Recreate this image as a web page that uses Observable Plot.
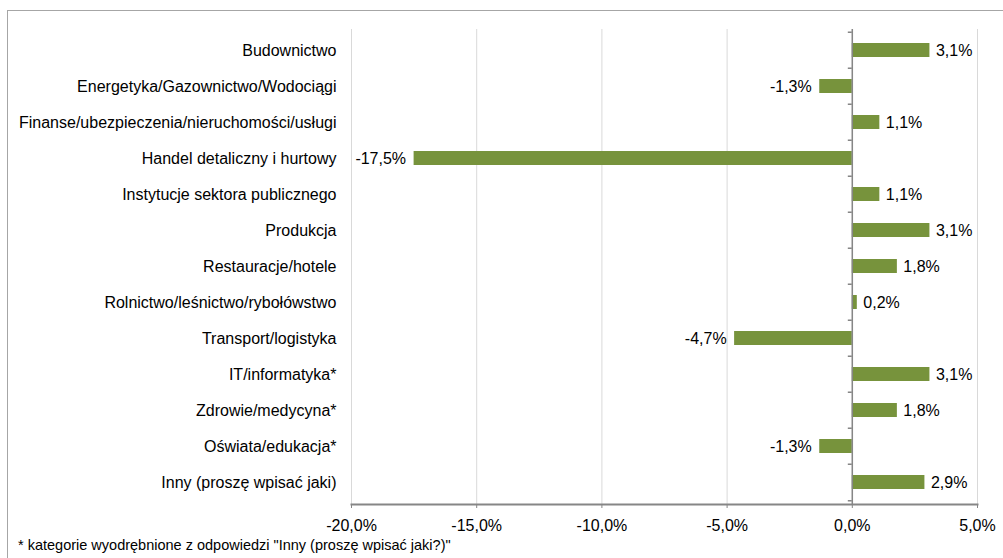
<!DOCTYPE html>
<html>
<head>
<meta charset="utf-8">
<script src="https://cdn.jsdelivr.net/npm/d3@7"></script>
<script src="https://cdn.jsdelivr.net/npm/@observablehq/plot@0.6"></script>
<style>
  html, body { margin: 0; padding: 0; background: #fff; }
  #wrap { position: relative; width: 1003px; height: 558px; overflow: hidden; font-family: "Liberation Sans", Arial, sans-serif; }
  #frame { position: absolute; left: 7px; top: 10px; width: 1010px; height: 560px; border-left: 1.5px solid #a6a6a6; border-top: 1.5px solid #a6a6a6; box-sizing: border-box; }
  #chart { position: absolute; left: 0; top: 0; }
  #note { position: absolute; left: 18px; top: 537px; font-size: 14.5px; color: #000; white-space: nowrap; }
</style>
</head>
<body>
<div id="wrap">
  <div id="frame"></div>
  <div id="chart"></div>
  <div id="note">* kategorie wyodrębnione z odpowiedzi "Inny (proszę wpisać jaki?)"</div>
</div>
<script>
const categories = [
  "Budownictwo",
  "Energetyka/Gazownictwo/Wodociągi",
  "Finanse/ubezpieczenia/nieruchomości/usługi",
  "Handel detaliczny i hurtowy",
  "Instytucje sektora publicznego",
  "Produkcja",
  "Restauracje/hotele",
  "Rolnictwo/leśnictwo/rybołówstwo",
  "Transport/logistyka",
  "IT/informatyka*",
  "Zdrowie/medycyna*",
  "Oświata/edukacja*",
  "Inny (proszę wpisać jaki)"
];
const values = [3.1, -1.3, 1.1, -17.5, 1.1, 3.1, 1.8, 0.2, -4.7, 3.1, 1.8, -1.3, 2.9];
const xTicks = [-20, -15, -10, -5, 0, 5];

const data = categories.map((c, i) => ({cat: c, value: values[i]}));
const fmt = v => v.toFixed(1).replace(".", ",") + "%";

const W = 1003, H = 540, mTop = 29, mBottom = 36, mLeft = 351, mRight = 26;
const step = (H - mTop - mBottom) / categories.length;
const pxPerUnit = (W - mLeft - mRight) / (xTicks[xTicks.length - 1] - xTicks[0]);

const chart = Plot.plot({
  width: W,
  height: H,
  marginTop: mTop,
  marginBottom: mBottom,
  marginLeft: mLeft,
  marginRight: mRight,
  style: {fontFamily: "'Liberation Sans', Arial, sans-serif", fontSize: "16px", color: "#000", background: "transparent"},
  x: {domain: [xTicks[0], xTicks[xTicks.length - 1]]},
  y: {domain: categories, paddingInner: 0.6, paddingOuter: 0.3, align: 0.5},
  marks: [
    Plot.gridX(xTicks, {stroke: "#d9d9d9", strokeOpacity: 1, strokeWidth: 1}),
    Plot.barX(data, {x: "value", y: "cat", fill: "#77933c"}),
    Plot.ruleX([0], {stroke: "#868686", strokeWidth: 1.5}),
    Plot.ruleY(categories, {y: d => d, x1: 0, x2: -4 / pxPerUnit, dy: -step / 2, stroke: "#868686", strokeWidth: 1.5}),
    Plot.ruleY(categories.slice(-1), {y: d => d, x1: 0, x2: -4 / pxPerUnit, dy: step / 2, stroke: "#868686", strokeWidth: 1.5}),
    Plot.frame({anchor: "bottom", stroke: "#868686", strokeWidth: 2}),
    Plot.axisX(xTicks, {tickFormat: fmt, tickSize: 4, tickPadding: 11, stroke: "#868686", fill: "#000", fontSize: 16, label: null}),
    Plot.axisY({tickSize: 0, tickPadding: 15, fill: "#000", fontSize: 16, label: null}),
    Plot.text(data.filter(d => d.value >= 0), {x: "value", y: "cat", text: d => fmt(d.value), textAnchor: "start", dx: 6, fill: "#000", fontSize: 16}),
    Plot.text(data.filter(d => d.value < 0), {x: "value", y: "cat", text: d => fmt(d.value), textAnchor: "end", dx: -8, fill: "#000", fontSize: 16})
  ]
});
document.getElementById("chart").appendChild(chart);
</script>
</body>
</html>
